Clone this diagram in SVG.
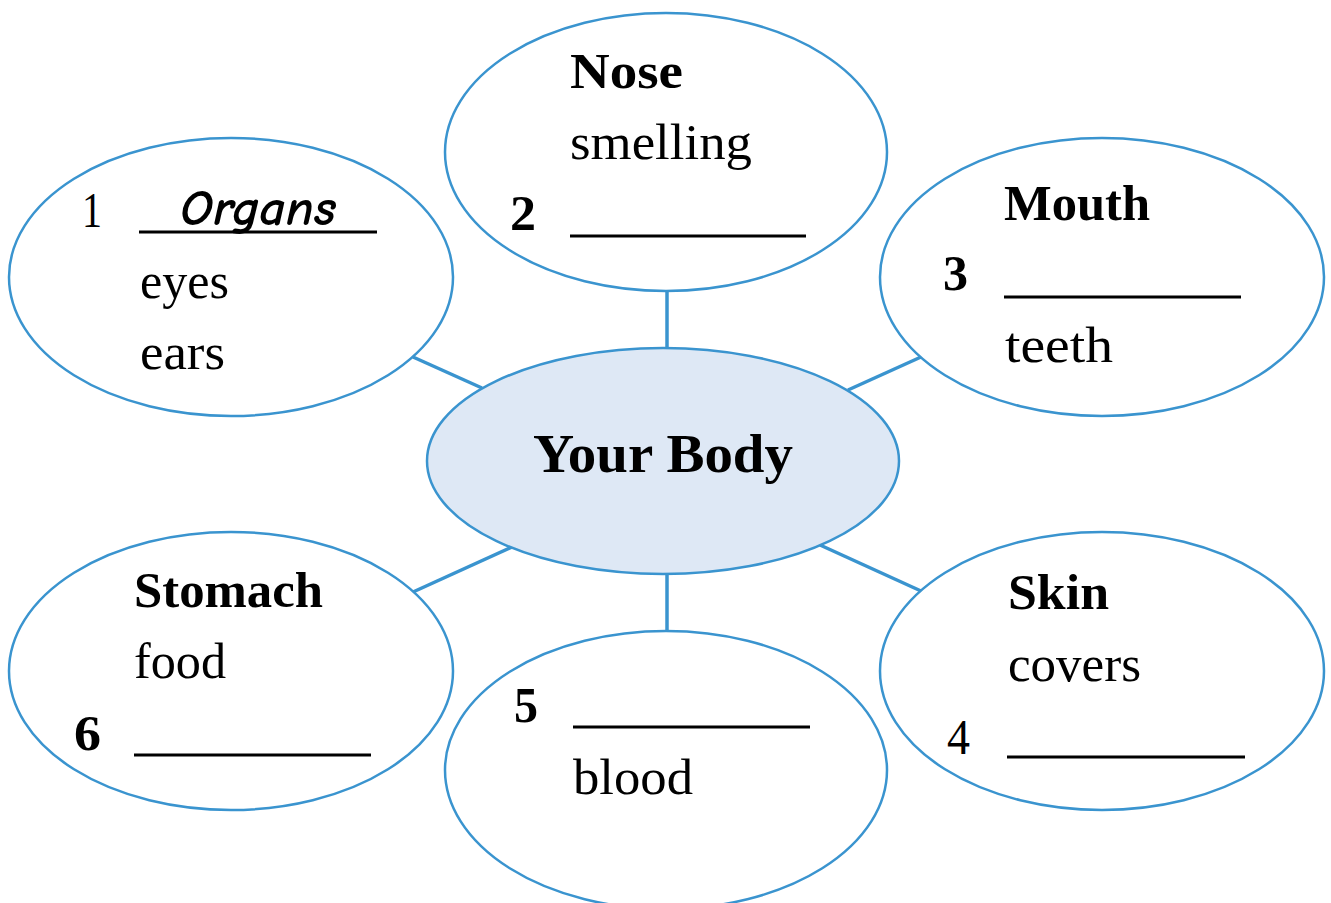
<svg xmlns="http://www.w3.org/2000/svg" width="1331" height="903" viewBox="0 0 1331 903">
<style>
.node{fill:#ffffff;stroke:#3a94cf;stroke-width:2.5}
.center{fill:#dee8f5;stroke:#3a94cf;stroke-width:2.5}
.conn line{stroke:#3a94cf;stroke-width:3.5}
.t{font-family:"Liberation Serif","DejaVu Serif",serif;font-size:50px;fill:#000}
.b{font-weight:bold}
.hand{font-family:"Comic Neue","Liberation Sans","DejaVu Sans",sans-serif;font-size:50px;font-weight:bold;font-style:italic;fill:#000}
.ul{stroke:#000;stroke-width:3}
</style>
<rect width="1331" height="903" fill="#ffffff"/>
<g id="connectors" class="conn">
<line x1="667" y1="292" x2="667" y2="348"/>
<line x1="667" y1="574" x2="667" y2="631"/>
<line x1="413" y1="357" x2="482" y2="388"/>
<line x1="848" y1="390" x2="921" y2="357"/>
<line x1="413" y1="592" x2="512" y2="547"/>
<line x1="820" y1="545" x2="921" y2="591"/>
</g>
<g id="node-organs">
<ellipse class="node" cx="231" cy="277" rx="222" ry="139"/>
<text class="t" x="82" y="227" textLength="20" lengthAdjust="spacingAndGlyphs">1</text>
<text class="hand" x="180" y="225" textLength="156" lengthAdjust="spacingAndGlyphs">Organs</text>
<line class="ul" x1="139" y1="232" x2="377" y2="232"/>
<text class="t" x="140" y="298" textLength="89" lengthAdjust="spacingAndGlyphs">eyes</text>
<text class="t" x="140" y="369" textLength="85" lengthAdjust="spacingAndGlyphs">ears</text>
</g>
<g id="node-nose">
<ellipse class="node" cx="666" cy="152" rx="221" ry="139"/>
<text class="t b" x="570" y="88" textLength="113" lengthAdjust="spacingAndGlyphs">Nose</text>
<text class="t" x="570" y="159" textLength="182" lengthAdjust="spacingAndGlyphs">smelling</text>
<text class="t b" x="510" y="230" textLength="26" lengthAdjust="spacingAndGlyphs">2</text>
<line class="ul" x1="570" y1="236" x2="806" y2="236"/>
</g>
<g id="node-mouth">
<ellipse class="node" cx="1102" cy="277" rx="222" ry="139"/>
<text class="t b" x="1004" y="220" textLength="146" lengthAdjust="spacingAndGlyphs">Mouth</text>
<text class="t b" x="943" y="290" textLength="25" lengthAdjust="spacingAndGlyphs">3</text>
<line class="ul" x1="1004" y1="297" x2="1241" y2="297"/>
<text class="t" x="1005" y="362" textLength="108" lengthAdjust="spacingAndGlyphs">teeth</text>
</g>
<g id="node-center">
<ellipse class="center" cx="663" cy="461" rx="236" ry="113"/>
<text class="t b" x="533" y="472" textLength="260" lengthAdjust="spacingAndGlyphs" style="font-size:54px">Your Body</text>
</g>
<g id="node-stomach">
<ellipse class="node" cx="231" cy="671" rx="222" ry="139"/>
<text class="t b" x="134" y="607" textLength="189" lengthAdjust="spacingAndGlyphs">Stomach</text>
<text class="t" x="134" y="678" textLength="92" lengthAdjust="spacingAndGlyphs">food</text>
<text class="t b" x="74" y="750" textLength="27" lengthAdjust="spacingAndGlyphs">6</text>
<line class="ul" x1="134" y1="755" x2="371" y2="755"/>
</g>
<g id="node-blood">
<ellipse class="node" cx="666" cy="770" rx="221" ry="139"/>
<text class="t b" x="514" y="722" textLength="24" lengthAdjust="spacingAndGlyphs">5</text>
<line class="ul" x1="573" y1="727" x2="810" y2="727"/>
<text class="t" x="573" y="794" textLength="120" lengthAdjust="spacingAndGlyphs">blood</text>
</g>
<g id="node-skin">
<ellipse class="node" cx="1102" cy="671" rx="222" ry="139"/>
<text class="t b" x="1008" y="609" textLength="101" lengthAdjust="spacingAndGlyphs">Skin</text>
<text class="t" x="1008" y="681" textLength="133" lengthAdjust="spacingAndGlyphs">covers</text>
<text class="t" x="947" y="754" textLength="23" lengthAdjust="spacingAndGlyphs">4</text>
<line class="ul" x1="1007" y1="757" x2="1245" y2="757"/>
</g>
</svg>
